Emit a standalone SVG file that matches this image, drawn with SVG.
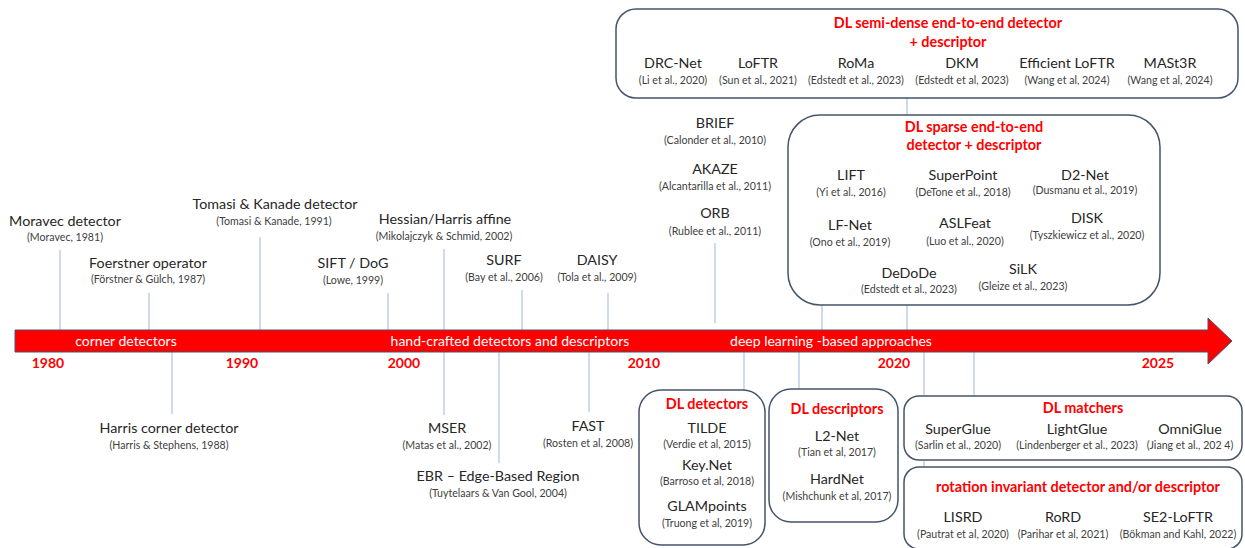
<svg xmlns="http://www.w3.org/2000/svg" width="1245" height="548" viewBox="0 0 1245 548">
<style>
text{font-family:Lato,"Liberation Sans",sans-serif;text-anchor:middle}
.n{font-size:14.3px;fill:#262626}
.c{font-size:10.6px;fill:#404040}
.t{font-size:14.4px;font-weight:bold;fill:#ff0000}
.y{font-size:14px;font-weight:bold;fill:#ff0000}
.b{font-size:14px;fill:#ffffff}
.box{fill:#ffffff;stroke:#44546a;stroke-width:1.5}
.ln{stroke:#b4c7e7;stroke-width:1.3;fill:none}
</style>
<rect width="1245" height="548" fill="#ffffff"/>
<g id="connectors">
<line class="ln" x1="60" y1="250" x2="60" y2="330"/>
<line class="ln" x1="149" y1="293" x2="149" y2="330"/>
<line class="ln" x1="260" y1="237" x2="260" y2="330"/>
<line class="ln" x1="172" y1="352" x2="172" y2="414"/>
<line class="ln" x1="388" y1="293" x2="388" y2="330"/>
<line class="ln" x1="444" y1="249" x2="444" y2="415"/>
<line class="ln" x1="522" y1="290" x2="522" y2="330"/>
<line class="ln" x1="499" y1="352" x2="499" y2="463"/>
<line class="ln" x1="608" y1="293" x2="608" y2="330"/>
<line class="ln" x1="589" y1="352" x2="589" y2="412"/>
<line class="ln" x1="715" y1="243" x2="715" y2="323"/>
<line class="ln" x1="744" y1="352" x2="744" y2="390"/>
<line class="ln" x1="799" y1="352" x2="799" y2="390"/>
<line class="ln" x1="822" y1="305" x2="822" y2="330"/>
<line class="ln" x1="907" y1="97" x2="907" y2="330"/>
<line class="ln" x1="924" y1="352" x2="924" y2="468"/>
<line class="ln" x1="974" y1="352" x2="974" y2="397"/>
</g>
<g id="timeline">
<path d="M15,330 H1208 V318 L1232,341 L1208,364 V352 H15 Z" fill="#ff0000" stroke="#44546a" stroke-width="1"/>
<text class="b" x="126" y="346">corner detectors</text>
<text class="b" x="510" y="346">hand-crafted detectors and descriptors</text>
<text class="b" x="831" y="346">deep learning -based approaches</text>
<text class="y" x="48" y="368">1980</text>
<text class="y" x="242" y="368">1990</text>
<text class="y" x="404" y="368">2000</text>
<text class="y" x="644" y="368">2010</text>
<text class="y" x="894" y="368">2020</text>
<text class="y" x="1158" y="368">2025</text>
</g>
<g id="moravec"><text class="n" x="65" y="226">Moravec detector</text><text class="c" x="65" y="241">(Moravec, 1981)</text></g>
<g id="foerstner"><text class="n" x="148" y="268">Foerstner operator</text><text class="c" x="148" y="283">(Förstner &amp; Gülch, 1987)</text></g>
<g id="tomasi"><text class="n" x="275" y="209">Tomasi &amp; Kanade detector</text><text class="c" x="274" y="225">(Tomasi &amp; Kanade, 1991)</text></g>
<g id="hessian"><text class="n" x="445" y="224">Hessian/Harris affine</text><text class="c" x="444" y="240">(Mikolajczyk &amp; Schmid, 2002)</text></g>
<g id="sift"><text class="n" x="353" y="268">SIFT / DoG</text><text class="c" x="353" y="284">(Lowe, 1999)</text></g>
<g id="surf"><text class="n" x="504" y="265">SURF</text><text class="c" x="504" y="281">(Bay et al., 2006)</text></g>
<g id="daisy"><text class="n" x="597" y="265">DAISY</text><text class="c" x="597" y="281">(Tola et al., 2009)</text></g>
<g id="harris"><text class="n" x="169" y="433">Harris corner detector</text><text class="c" x="169" y="449">(Harris &amp; Stephens, 1988)</text></g>
<g id="mser"><text class="n" x="447" y="433">MSER</text><text class="c" x="447" y="449">(Matas et al., 2002)</text></g>
<g id="ebr"><text class="n" x="498" y="481">EBR – Edge-Based Region</text><text class="c" x="498" y="497">(Tuytelaars &amp; Van Gool, 2004)</text></g>
<g id="fast"><text class="n" x="588" y="431">FAST</text><text class="c" x="588" y="447">(Rosten et al, 2008)</text></g>
<g id="brief"><text class="n" x="715" y="128">BRIEF</text><text class="c" x="715" y="144">(Calonder et al., 2010)</text></g>
<g id="akaze"><text class="n" x="715" y="174">AKAZE</text><text class="c" x="715" y="190">(Alcantarilla et al., 2011)</text></g>
<g id="orb"><text class="n" x="715" y="218">ORB</text><text class="c" x="715" y="235">(Rublee et al., 2011)</text></g>
<g id="semi-dense">
<rect class="box" x="616" y="9" width="622" height="89" rx="20"/>
<text class="t" x="948" y="28">DL semi-dense end-to-end detector</text>
<text class="t" x="948" y="47">+ descriptor</text>
<text class="n" x="673" y="68">DRC-Net</text><text class="c" x="673" y="84">(Li et al., 2020)</text>
<text class="n" x="758" y="68">LoFTR</text><text class="c" x="758" y="84">(Sun et al., 2021)</text>
<text class="n" x="856" y="68">RoMa</text><text class="c" x="856" y="84">(Edstedt  et al., 2023)</text>
<text class="n" x="962" y="68">DKM</text><text class="c" x="962" y="84">(Edstedt  et al, 2023)</text>
<text class="n" x="1067" y="68">Efficient  LoFTR</text><text class="c" x="1067" y="84">(Wang et al, 2024)</text>
<text class="n" x="1170" y="68">MASt3R</text><text class="c" x="1170" y="84">(Wang et al, 2024)</text>
</g>
<g id="sparse">
<rect class="box" x="788" y="115" width="372" height="190" rx="32"/>
<text class="t" x="974" y="132">DL sparse end-to-end</text>
<text class="t" x="974" y="150">detector + descriptor</text>
<text class="n" x="851" y="180">LIFT</text><text class="c" x="851" y="196">(Yi et al., 2016)</text>
<text class="n" x="963" y="180">SuperPoint</text><text class="c" x="963" y="196">(DeTone et al., 2018)</text>
<text class="n" x="1085" y="180">D2-Net</text><text class="c" x="1085" y="194">(Dusmanu et al., 2019)</text>
<text class="n" x="850" y="230">LF-Net</text><text class="c" x="850" y="246">(Ono et al., 2019)</text>
<text class="n" x="965" y="228">ASLFeat</text><text class="c" x="965" y="245">(Luo et al., 2020)</text>
<text class="n" x="1087" y="223">DISK</text><text class="c" x="1087" y="239">(Tyszkiewicz et al., 2020)</text>
<text class="n" x="909" y="278">DeDoDe</text><text class="c" x="909" y="293">(Edstedt  et al., 2023)</text>
<text class="n" x="1023" y="274">SiLK</text><text class="c" x="1023" y="290">(Gleize et al., 2023)</text>
</g>
<g id="dl-detectors">
<rect class="box" x="639" y="390" width="126" height="155" rx="22"/>
<text class="t" x="707" y="409">DL detectors</text>
<text class="n" x="707" y="433">TILDE</text><text class="c" x="707" y="448">(Verdie et al, 2015)</text>
<text class="n" x="707" y="470">Key.Net</text><text class="c" x="707" y="485">(Barroso et al, 2018)</text>
<text class="n" x="707" y="511">GLAMpoints</text><text class="c" x="707" y="527">(Truong et al, 2019)</text>
</g>
<g id="dl-descriptors">
<rect class="box" x="769" y="389" width="129" height="133" rx="22"/>
<text class="t" x="837" y="414">DL descriptors</text>
<text class="n" x="837" y="441">L2-Net</text><text class="c" x="837" y="456">(Tian et al, 2017)</text>
<text class="n" x="837" y="484">HardNet</text><text class="c" x="837" y="500">(Mishchunk et al, 2017)</text>
</g>
<g id="dl-matchers">
<rect class="box" x="904" y="396" width="338" height="64" rx="15"/>
<text class="t" x="1083" y="413">DL matchers</text>
<text class="n" x="958" y="434">SuperGlue</text><text class="c" x="958" y="449">(Sarlin et al., 2020)</text>
<text class="n" x="1077" y="434">LightGlue</text><text class="c" x="1077" y="449">(Lindenberger  et al., 2023)</text>
<text class="n" x="1190" y="434">OmniGlue</text><text class="c" x="1190" y="449">(Jiang et al., 202 4)</text>
</g>
<g id="rotation">
<rect class="box" x="904" y="467" width="338" height="82" rx="15"/>
<text class="t" x="1078" y="492">rotation invariant detector and/or descriptor</text>
<text class="n" x="963" y="522">LISRD</text><text class="c" x="963" y="538">(Pautrat et al, 2020)</text>
<text class="n" x="1063" y="522">RoRD</text><text class="c" x="1063" y="538">(Parihar et al, 2021)</text>
<text class="n" x="1178" y="522">SE2-LoFTR</text><text class="c" x="1178" y="538">(Bökman and Kahl, 2022)</text>
</g>
</svg>
